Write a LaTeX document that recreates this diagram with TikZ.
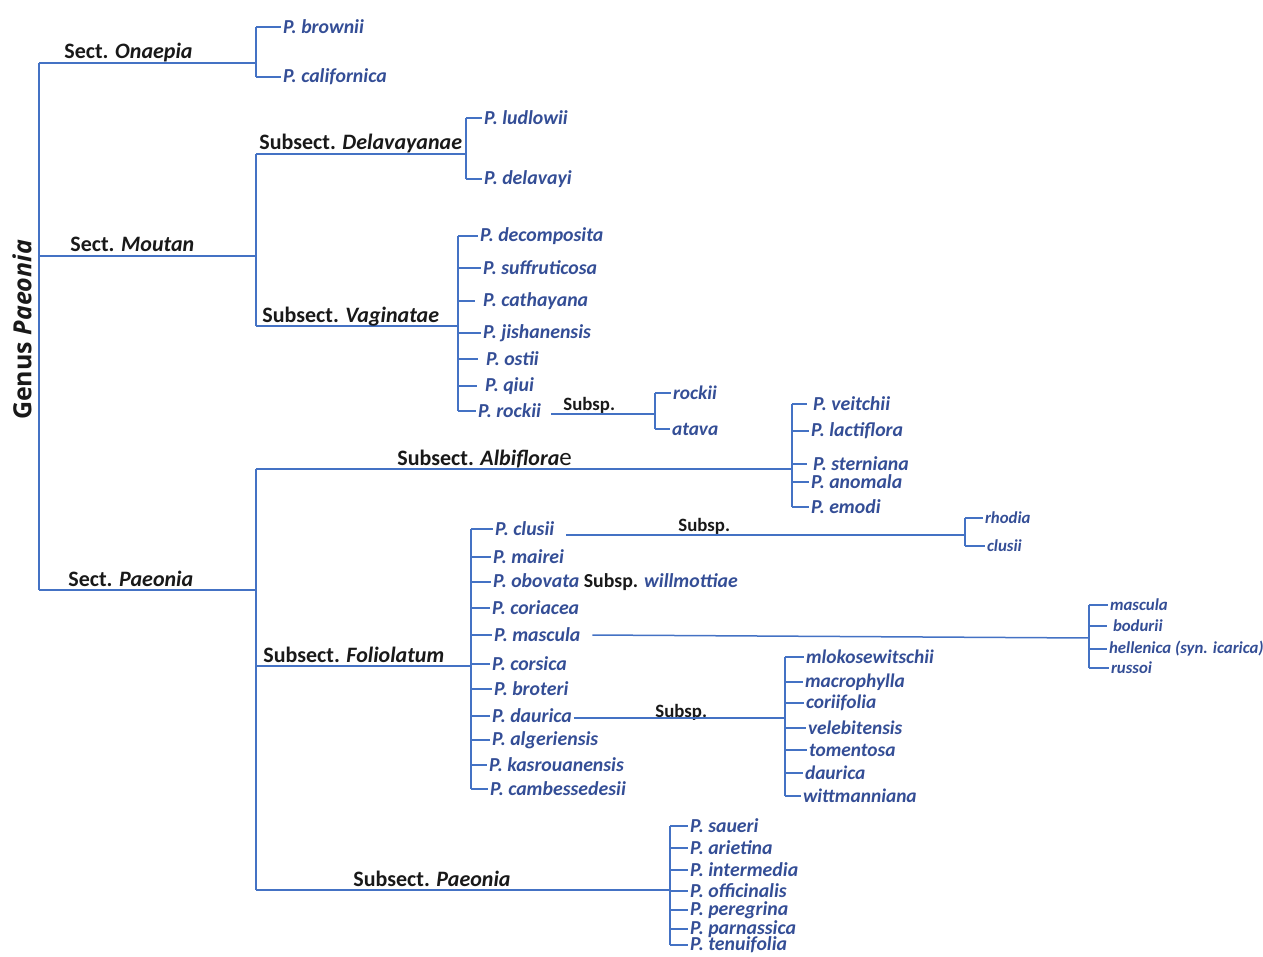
\documentclass[tikz,border=0pt]{standalone}
\usepackage{fontspec}
\setmainfont{Carlito}
\newfontfamily\genusfont{Open Sans}
\usepackage{xcolor}
\usepackage{tikz}
\usetikzlibrary{positioning}

\definecolor{lineblue}{RGB}{68,114,196}
\definecolor{spblue}{RGB}{52,78,150}

\begin{document}
\begin{tikzpicture}[
  x=0.5pt, y=-0.5pt,
  br/.style={draw=lineblue, line width=0.75pt},
  taxlabel/.style={anchor=base west, inner sep=0pt, font=\fontsize{11}{12}\selectfont\bfseries, text=black!90},
  sp/.style={anchor=west, inner sep=0.8pt, font=\fontsize{9.9}{11}\selectfont\bfseries\itshape, text=spblue},
  ssp/.style={sp, font=\fontsize{9.7}{11}\selectfont\bfseries\itshape},
  smallssp/.style={sp, font=\fontsize{8.4}{10}\selectfont\bfseries\itshape},
  subsp/.style={anchor=base west, inner sep=0pt, font=\fontsize{9.4}{10}\selectfont\bfseries, text=black!90}
]
\useasboundingbox (0,0) rectangle (1263,957);

% genus and sections
\node[rotate=90, font=\genusfont\fontsize{12.5}{14}\selectfont\bfseries, text=black!90] (genus) at (22,330) {Genus \textit{Paeonia}};
\coordinate (root) at (39,63);
\coordinate (jOna) at (256,63);
\coordinate (jMou) at (256,256);
\coordinate (jPae) at (256,590);
\draw[br] (root) -- (root |- jPae);
\draw[br] (root) -- (jOna);
\draw[br] (root |- jMou) -- (jMou);
\draw[br] (root |- jPae) -- (jPae);
\node[taxlabel] (onaepia) at (64,59) {Sect. \textit{Onaepia}};
\node[taxlabel] (moutan) at (70,252) {Sect. \textit{Moutan}};
\node[taxlabel] (paeonia) at (68,586) {Sect. \textit{Paeonia}};

% Sect. Onaepia
\node[sp] (brownii) at (281,27) {P. brownii};
\node[sp] (californica) at (281,77) {P. californica};
\draw[br] (jOna |- brownii) -- (jOna |- californica);
\draw[br] (jOna |- brownii) -- (brownii.west);
\draw[br] (jOna |- californica) -- (californica.west);

% Sect. Moutan
\coordinate (jDel) at (466,154);
\coordinate (jVag) at (458,326);
\draw[br] (jOna |- jDel) -- (jOna |- jVag);
\draw[br] (jOna |- jDel) -- (jDel);
\draw[br] (jOna |- jVag) -- (jVag);
\node[taxlabel] (delavayanae) at (259,150) {Subsect. \textit{Delavayanae}};
\node[taxlabel] (vaginatae) at (262,322) {Subsect. \textit{Vaginatae}};

\node[sp] (ludlowii) at (482,118) {P. ludlowii};
\node[sp] (delavayi) at (482,179) {P. delavayi};
\draw[br] (jDel |- ludlowii) -- (jDel |- delavayi);
\draw[br] (jDel |- ludlowii) -- (ludlowii.west);
\draw[br] (jDel |- delavayi) -- (delavayi.west);

\node[sp] (decomposita) at (478,236) {P. decomposita};
\node[sp] (suffruticosa) at (481,268) {P. suffruticosa};
\node[sp] (cathayana) at (481,301) {P. cathayana};
\node[sp] (jishanensis) at (481,333) {P. jishanensis};
\node[sp] (ostii) at (484,359) {P. ostii};
\node[sp] (qiui) at (483,386) {P. qiui};
\node[sp] (rockii) at (476,411) {P. rockii};
\draw[br] (jVag |- decomposita) -- (jVag |- rockii);
\draw[br] (jVag |- decomposita) -- (decomposita.west);
\draw[br] (jVag |- suffruticosa) -- (suffruticosa.west);
\draw[br] (jVag |- cathayana) -- ([xshift=-3pt]cathayana.west);
\draw[br] (jVag |- jishanensis) -- (jishanensis.west);
\draw[br] (jVag |- ostii) -- ([xshift=-3pt]ostii.west);
\draw[br] (jVag |- qiui) -- ([xshift=-3pt]qiui.west);
\draw[br] (jVag |- rockii) -- (rockii.west);

\coordinate (jRoc) at (655,414);
\node[subsp] (subspRoc) at (563,410) {Subsp.};
\draw[br] ([xshift=4pt]rockii.east |- jRoc) -- (jRoc);
\node[ssp] (rockiiS) at (671,393) {rockii};
\node[ssp] (atava) at (670,429) {atava};
\draw[br] (jRoc |- rockiiS) -- (jRoc |- atava);
\draw[br] (jRoc |- rockiiS) -- (rockiiS.west);
\draw[br] (jRoc |- atava) -- (atava.west);

% Sect. Paeonia
\coordinate (jAlb) at (792,469);
\coordinate (jFol) at (471,666);
\coordinate (jSPa) at (670,890);
\draw[br] (jPae |- jAlb) -- (jPae |- jSPa);
\draw[br] (jPae |- jAlb) -- (jAlb);
\draw[br] (jPae |- jFol) -- (jFol);
\draw[br] (jPae |- jSPa) -- (jSPa);
\node[taxlabel] (albiflorae) at (397,465) {Subsect. \textit{Albiflora}{\mdseries\fontsize{12.5}{12}\selectfont e}};
\node[taxlabel] (foliolatum) at (263,662) {Subsect. \textit{Foliolatum}};
\node[taxlabel] (paeoniaSub) at (353,886) {Subsect. \textit{Paeonia}};

% Subsect. Albiflorae
\node[sp] (veitchii) at (811,404) {P. veitchii};
\node[sp] (lactiflora) at (809,431) {P. lactiflora};
\node[sp] (sterniana) at (811,464) {P. sterniana};
\node[sp] (anomala) at (809,482) {P. anomala};
\node[sp] (emodi) at (809,507) {P. emodi};
\draw[br] (jAlb |- veitchii) -- (jAlb |- emodi);
\draw[br] (jAlb |- veitchii) -- ([xshift=-2pt]veitchii.west);
\draw[br] (jAlb |- lactiflora) -- (lactiflora.west);
\draw[br] (jAlb |- sterniana) -- ([xshift=-2pt]sterniana.west);
\draw[br] (jAlb |- anomala) -- (anomala.west);
\draw[br] (jAlb |- emodi) -- (emodi.west);

% Subsect. Foliolatum
\node[sp] (clusii) at (493,529) {P. clusii};
\node[sp] (mairei) at (491,557) {P. mairei};
\node[sp] (obovata) at (491,582) {P. obovata {\upshape\color{black!90}Subsp.} willmottiae};
\node[sp] (coriacea) at (490,608) {P. coriacea};
\node[sp] (mascula) at (492,635) {P. mascula};
\node[sp] (corsica) at (490,664) {P. corsica};
\node[sp] (broteri) at (492,689) {P. broteri};
\node[sp] (daurica) at (490,716) {P. daurica};
\node[sp] (algeriensis) at (490,740) {P. algeriensis};
\node[sp] (kasrouanensis) at (487,765) {P. kasrouanensis};
\node[sp] (cambessedesii) at (488,789) {P. cambessedesii};
\draw[br] (jFol |- clusii) -- (jFol |- cambessedesii);
\foreach \s in {clusii,mairei,obovata,coriacea,mascula,corsica,broteri,daurica,algeriensis,kasrouanensis,cambessedesii}
  \draw[br] (jFol |- \s) -- (\s.west);

% P. clusii subspecies
\coordinate (jClu) at (965,535);
\node[subsp] (subspClu) at (678,531) {Subsp.};
\draw[br] ([xshift=5pt]clusii.east |- jClu) -- (jClu);
\node[smallssp] (rhodia) at (983,518) {rhodia};
\node[smallssp] (clusiiS) at (985,546) {clusii};
\draw[br] (jClu |- rhodia) -- (jClu |- clusiiS);
\draw[br] (jClu |- rhodia) -- (rhodia.west);
\draw[br] (jClu |- clusiiS) -- (clusiiS.west);

% P. mascula subspecies
\coordinate (jMas) at (1089,638);
\draw[br] ([xshift=5pt]mascula.east) -- (jMas);
\node[smallssp] (masculaS) at (1108,605) {mascula};
\node[smallssp] (bodurii) at (1111,626) {bodurii};
\node[smallssp] (hellenica) at (1107,649) {hellenica (syn. icarica)};
\node[smallssp] (russoi) at (1109,668) {russoi};
\draw[br] (jMas |- masculaS) -- (jMas |- russoi);
\draw[br] (jMas |- masculaS) -- (masculaS.west);
\draw[br] (jMas |- bodurii) -- ([xshift=-2pt]bodurii.west);
\draw[br] (jMas |- hellenica) -- (hellenica.west);
\draw[br] (jMas |- russoi) -- (russoi.west);

% P. daurica subspecies
\coordinate (jDau) at (785,718);
\node[subsp] (subspDau) at (655,717) {Subsp.};
\draw[br] (daurica.east |- jDau) -- (jDau);
\node[ssp] (mlokosewitschii) at (804,657) {mlokosewitschii};
\node[ssp] (macrophylla) at (803,682) {macrophylla};
\node[ssp] (coriifolia) at (804,703) {coriifolia};
\node[ssp] (velebitensis) at (806,728) {velebitensis};
\node[ssp] (tomentosa) at (807,750) {tomentosa};
\node[ssp] (dauricaS) at (803,773) {daurica};
\node[ssp] (wittmanniana) at (801,796) {wittmanniana};
\draw[br] (jDau |- mlokosewitschii) -- (jDau |- wittmanniana);
\foreach \s in {mlokosewitschii,macrophylla,coriifolia,velebitensis,tomentosa,dauricaS,wittmanniana}
  \draw[br] (jDau |- \s) -- (\s.west);

% Subsect. Paeonia
\node[sp] (saueri) at (688,826) {P. saueri};
\node[sp] (arietina) at (688,848) {P. arietina};
\node[sp] (intermedia) at (688,870) {P. intermedia};
\node[sp] (officinalis) at (688,891) {P. officinalis};
\node[sp] (peregrina) at (688,910) {P. peregrina};
\node[sp] (parnassica) at (688,929) {P. parnassica};
\node[sp] (tenuifolia) at (688,945) {P. tenuifolia};
\draw[br] (jSPa |- saueri) -- (jSPa |- tenuifolia);
\foreach \s in {saueri,arietina,intermedia,officinalis,peregrina,parnassica,tenuifolia}
  \draw[br] (jSPa |- \s) -- (\s.west);

\end{tikzpicture}
\end{document}
